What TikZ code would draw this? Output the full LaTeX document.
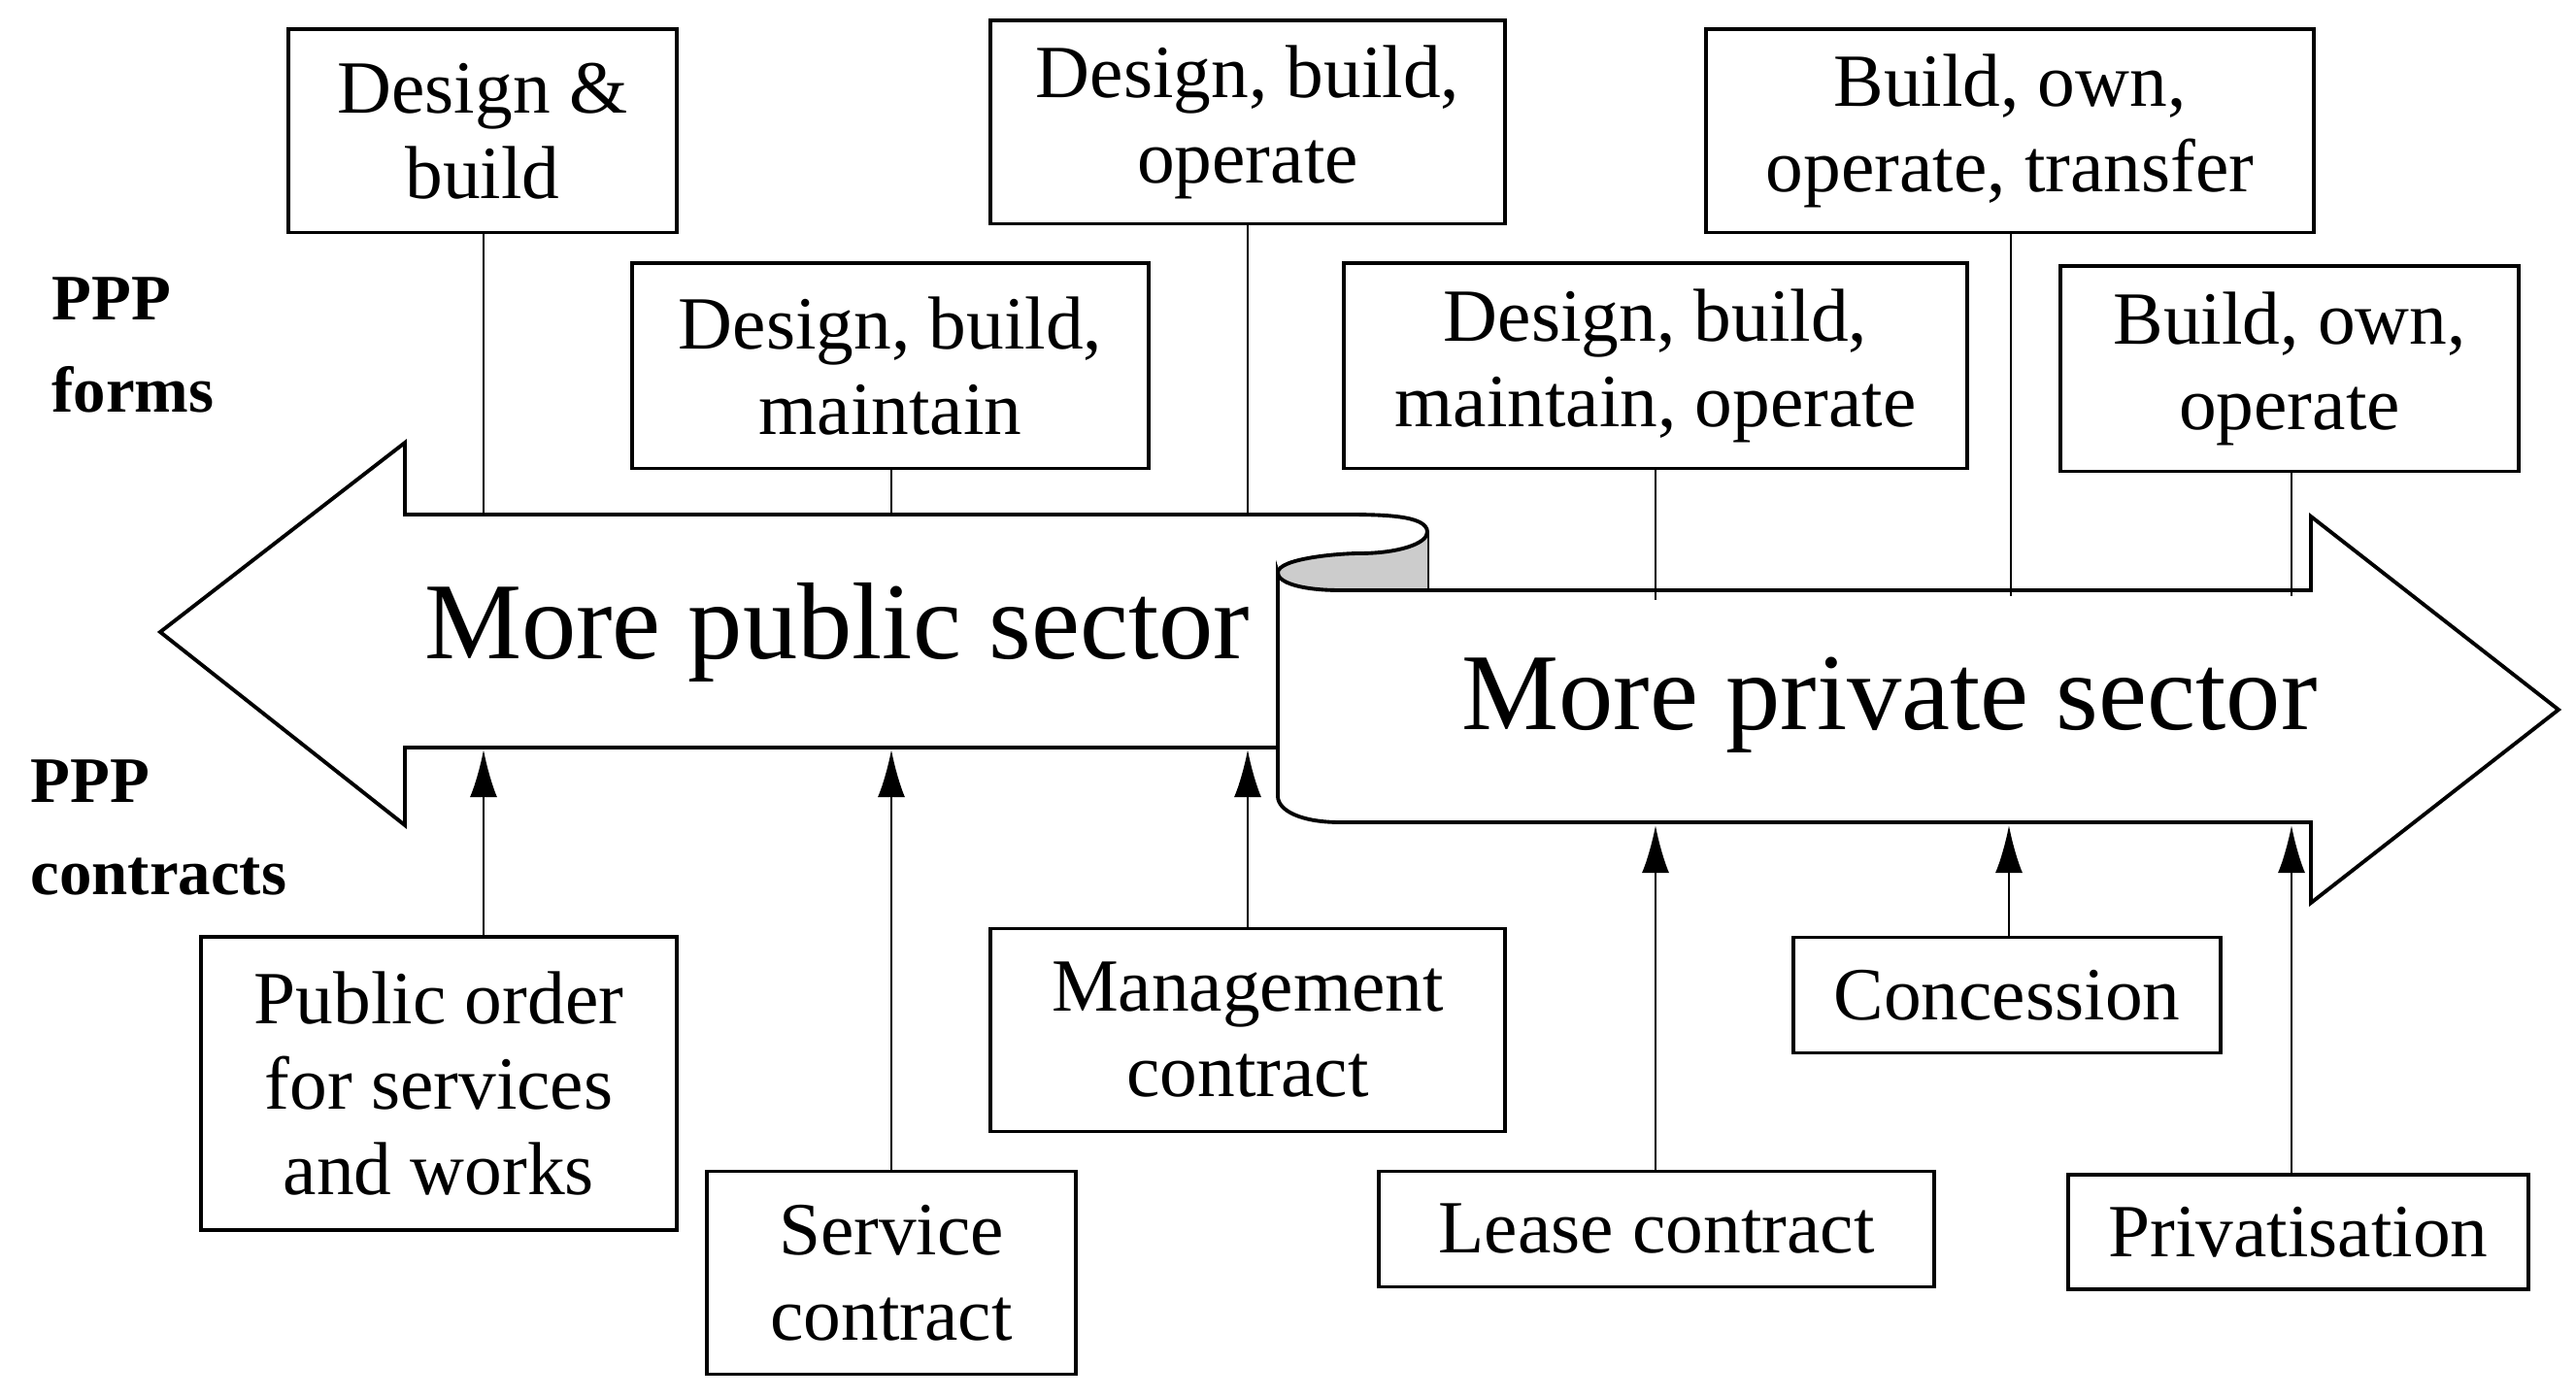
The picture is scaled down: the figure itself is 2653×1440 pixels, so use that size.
\documentclass[tikz,border=0pt]{standalone}
\usepackage{fontspec}
\setmainfont{Liberation Serif}
\usetikzlibrary{arrows.meta}
\begin{document}
\begin{tikzpicture}[x=0.01cm,y=-0.01cm,line width=1.1pt,line join=miter,
  bx/.style={draw,align=center,inner sep=0pt,font=\fontsize{22}{25}\selectfont},
  lbl/.style={align=left,anchor=west,font=\fontsize{19}{27}\selectfont\bfseries},
  big/.style={font=\fontsize{32}{36}\selectfont},
  arr/.style={-{Latex[length=14pt,width=8pt]},line width=0.8pt},
  ln/.style={line width=0.8pt}]
\useasboundingbox (0,0) rectangle (2653,1440);
% left arrow
\draw (1470,608) -- (1470,548) .. controls (1470,530) and (1420,530) .. (1380,530)
  -- (417,530) -- (417,456) -- (165,651) -- (417,850) -- (417,770) -- (1316,770);
% gray curl
\fill[gray!40] (1316,590) .. controls (1316,575) and (1380,570) .. (1400,570)
  .. controls (1440,570) and (1470,560) .. (1470,548) -- (1470,608) -- (1380,608)
  .. controls (1340,608) and (1316,600) .. (1316,590) -- cycle;
\draw (1316,590) .. controls (1316,575) and (1380,570) .. (1400,570)
  .. controls (1440,570) and (1470,560) .. (1470,548);
% right arrow
\draw[fill=white] (1316,590) .. controls (1316,600) and (1340,608) .. (1380,608)
  -- (2380,608) -- (2380,532) -- (2635,731) -- (2380,930) -- (2380,847) -- (1380,847)
  .. controls (1340,847) and (1316,835) .. (1316,820) -- cycle;
\node[big] (pub) at (862,651) {More public sector};
\node[big] (priv) at (1946,726) {More private sector};
% labels
\node[lbl] (forms) at (40,355) {PPP\\forms};
\node[lbl] (contr) at (18,852) {PPP\\contracts};
% top boxes
\node[bx,minimum width=3.99cm,minimum height=2.09cm] (f1) at (497,135) {Design \&\\build};
\node[bx,minimum width=5.30cm,minimum height=2.09cm] (f3) at (1285,126) {Design, build,\\operate};
\node[bx,minimum width=6.25cm,minimum height=2.09cm] (f5) at (2070,135) {Build, own,\\operate, transfer};
\node[bx,minimum width=5.32cm,minimum height=2.11cm] (f2) at (917,377) {Design, build,\\maintain};
\node[bx,minimum width=6.41cm,minimum height=2.11cm] (f4) at (1705,377) {Design, build,\\maintain, operate};
\node[bx,minimum width=4.72cm,minimum height=2.11cm] (f6) at (2358,380) {Build, own,\\operate};
% bottom boxes
\node[bx,minimum width=4.90cm,minimum height=3.01cm] (c1) at (452,1116) {Public order\\for services\\and works};
\node[bx,minimum width=3.80cm,minimum height=2.09cm] (c2) at (918,1311) {Service\\contract};
\node[bx,minimum width=5.30cm,minimum height=2.09cm] (c3) at (1285,1061) {Management\\contract};
\node[bx,minimum width=5.72cm,minimum height=1.19cm] (c4) at (1706,1266) {Lease contract};
\node[bx,minimum width=4.39cm,minimum height=1.19cm] (c5) at (2067,1025) {Concession};
\node[bx,minimum width=4.74cm,minimum height=1.18cm] (c6) at (2367,1269) {Privatisation};
% connectors top
\coordinate (t1) at (498,530); \coordinate (t2) at (918,530); \coordinate (t3) at (1285,530);
\coordinate (t4) at (1705,618); \coordinate (t5) at (2071,614); \coordinate (t6) at (2360,614);
\draw[ln] (f1.south -| t1) -- (t1);
\draw[ln] (f2.south -| t2) -- (t2);
\draw[ln] (f3.south -| t3) -- (t3);
\draw[ln] (f4.south -| t4) -- (t4);
\draw[ln] (f5.south -| t5) -- (t5);
\draw[ln] (f6.south -| t6) -- (t6);
% connectors bottom
\coordinate (b1) at (498,772); \coordinate (b2) at (918,772); \coordinate (b3) at (1285,772);
\coordinate (b4) at (1705,850); \coordinate (b5) at (2069,850); \coordinate (b6) at (2360,850);
\draw[arr] (c1.north -| b1) -- (b1);
\draw[arr] (c2.north -| b2) -- (b2);
\draw[arr] (c3.north -| b3) -- (b3);
\draw[arr] (c4.north -| b4) -- (b4);
\draw[arr] (c5.north -| b5) -- (b5);
\draw[arr] (c6.north -| b6) -- (b6);
\end{tikzpicture}
\end{document}
